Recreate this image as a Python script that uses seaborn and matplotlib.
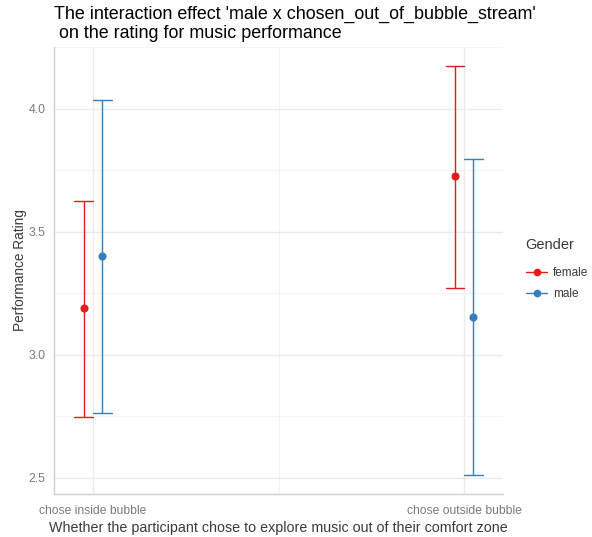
import matplotlib
matplotlib.use("Agg")
import matplotlib.pyplot as plt
from matplotlib.lines import Line2D
from matplotlib.ticker import MultipleLocator
import numpy as np
import pandas as pd
import seaborn as sns

# Group means and 95% confidence bounds of the performance rating
conditions = ["chose inside bubble", "chose outside bubble"]
genders = ["female", "male"]
rating_mean = {"female": [3.190, 3.728], "male": [3.402, 3.155]}
rating_low = {"female": [2.748, 3.272], "male": [2.764, 2.512]}
rating_high = {"female": [3.626, 4.175], "male": [4.037, 3.797]}
palette = {"female": "#E41A1C", "male": "#377EB8"}

# Long table: each cell holds (low, mean, high); the median is the mean and
# the min/max span is the interval.
rows = []
for g in genders:
    for i, c in enumerate(conditions):
        for v in (rating_low[g][i], rating_mean[g][i], rating_high[g][i]):
            rows.append({"condition": c, "Gender": g, "rating": v})
df = pd.DataFrame(rows)

sns.set_style("white")
plt.rcParams["font.family"] = ["Liberation Sans", "DejaVu Sans"]

fig = plt.figure(figsize=(5.92, 5.37), dpi=100)
ax = fig.add_axes([0.0912, 0.0801, 0.7585, 0.8324])

sns.pointplot(
    data=df, x="condition", y="rating", hue="Gender",
    order=conditions, hue_order=genders, palette=palette,
    estimator="median", errorbar=lambda v: (np.min(v), np.max(v)),
    dodge=0.05, linestyle="none", markers="o", markersize=3.8,
    capsize=0.05, err_kws={"linewidth": 1.0}, ax=ax, legend=False,
)

ax.set_xlim(-0.105, 1.105)
ax.set_ylim(2.435, 4.252)
ax.yaxis.set_major_locator(MultipleLocator(0.5))
ax.yaxis.set_minor_locator(MultipleLocator(0.25))
ax.set_xticks([0, 1])
ax.set_xticks([0.5], minor=True)
ax.set_yticklabels([f"{t:.1f}" for t in ax.get_yticks()])

ax.grid(True, which="major", color="#EBEBEB", linewidth=1.0)
ax.grid(True, which="minor", color="#F4F4F4", linewidth=0.8)
ax.set_axisbelow(True)
for s in ["top", "right"]:
    ax.spines[s].set_visible(False)
for s in ["left", "bottom"]:
    ax.spines[s].set_color("#D0D0D0")
    ax.spines[s].set_linewidth(1.0)

ax.tick_params(axis="both", which="both", length=0, labelsize=8.7,
               labelcolor="#7A7A7A", pad=6)
ax.tick_params(axis="x", pad=8)

ax.set_xlabel("Whether the participant chose to explore music out of their comfort zone",
              fontsize=10.25, color="#3A3A3A", labelpad=3)
ax.set_ylabel("Performance Rating", fontsize=9.8, color="#3A3A3A", labelpad=1)

fig.text(0.0912, 0.99,
         "The interaction effect 'male x chosen_out_of_bubble_stream'\n on the rating for music performance",
         ha="left", va="top", fontsize=12.85, color="black", linespacing=1.15)

# Legend: title placed on its own, keys below it
fig.text(525 / 592, 1 - 245 / 537, "Gender", ha="left", va="center",
         fontsize=10.5, color="#3A3A3A")
handles = [Line2D([0], [0], color=palette[g], marker="o", markersize=4.5,
                  linewidth=1.0) for g in genders]
leg = fig.legend(handles, genders, loc="upper left",
                 bbox_to_anchor=(0.879, 1 - 261 / 537), frameon=False,
                 fontsize=8.5, handlelength=1.75, borderpad=0.0,
                 handletextpad=0.5, labelspacing=0.75)
for t in leg.get_texts():
    t.set_color("#3A3A3A")

fig.savefig("out.png", dpi=100)
